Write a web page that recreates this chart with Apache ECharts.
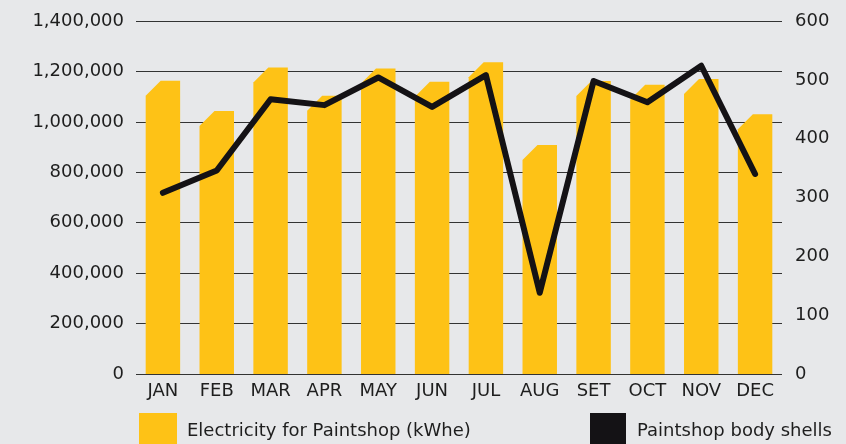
<!DOCTYPE html>
<html>
<head>
<meta charset="utf-8">
<script src="https://cdn.jsdelivr.net/npm/echarts@6/dist/echarts.min.js"></script>
<style>
  html, body { margin: 0; padding: 0; background: #e7e8ea; }
  #myChart { width: 846px; height: 444px; }
</style>
</head>
<body>
<div id="myChart"></div>
<script>
  // data
  var months = ['JAN', 'FEB', 'MAR', 'APR', 'MAY', 'JUN', 'JUL', 'AUG', 'SET', 'OCT', 'NOV', 'DEC'];
  var electricity = [1163000, 1043000, 1216000, 1104000, 1212000, 1159000, 1236000, 908000, 1162000, 1147000, 1170000, 1030000];
  var bodyShells = [308, 346, 467, 457, 504, 454, 508, 138, 498, 462, 524, 340];
  var leftTicks = [0, 1400000, 200000]; // min, max, step
  var rightTicks = [0, 600, 100];

  var yellow = '#fec216';
  var black = '#141215';
  var textColor = '#1e1e1e';
  var font = 'DejaVu Sans';

  function withCommas(v) {
    return String(v).replace(/\B(?=(\d{3})+(?!\d))/g, ',');
  }

  // bar with the top-left corner cut off
  function renderBar(params, api) {
    var i = api.value(0);
    var top = api.coord([i, api.value(1)]);
    var base = api.coord([i, 0]);
    var w = api.size([1, 0])[0] * 0.64;
    var x0 = top[0] - w / 2;
    var x1 = top[0] + w / 2;
    var cut = 15;
    return {
      type: 'polygon',
      shape: {
        points: [[x0, base[1]], [x0, top[1] + cut], [x0 + cut, top[1]], [x1, top[1]], [x1, base[1]]]
      },
      style: { fill: yellow }
    };
  }

  var myChart = echarts.init(document.getElementById('myChart'));
  myChart.setOption({
    backgroundColor: '#e7e8ea',
    animation: false,
    textStyle: { fontFamily: font },
    grid: { left: 136, right: 64, top: 21, bottom: 70 },
    legend: [{
      left: 139,
      top: 413,
      padding: 0,
      itemWidth: 38,
      itemHeight: 36,
      textStyle: { color: textColor, fontSize: 18, fontFamily: font, padding: [0, 0, 0, 5] },
      data: [{ name: 'Electricity for Paintshop (kWhe)', icon: 'rect', itemStyle: { color: yellow } }]
    }, {
      left: 590,
      top: 413,
      padding: 0,
      itemWidth: 36,
      itemHeight: 36,
      textStyle: { color: textColor, fontSize: 18, fontFamily: font, padding: [0, 0, 0, 6] },
      data: [{ name: 'Paintshop body shells', icon: 'rect', itemStyle: { color: black } }]
    }],
    xAxis: {
      type: 'category',
      data: months,
      axisLine: { show: false },
      axisTick: { show: false },
      axisLabel: { color: textColor, fontSize: 18, margin: 8 }
    },
    yAxis: [{
      type: 'value',
      min: leftTicks[0],
      max: leftTicks[1],
      interval: leftTicks[2],
      axisLine: { show: false },
      axisTick: { show: false },
      axisLabel: { color: textColor, fontSize: 18, margin: 12, formatter: withCommas },
      splitLine: { lineStyle: { color: '#333', width: 1 } }
    }, {
      type: 'value',
      min: rightTicks[0],
      max: rightTicks[1],
      interval: rightTicks[2],
      axisLine: { show: false },
      axisTick: { show: false },
      axisLabel: { color: textColor, fontSize: 18, margin: 13 },
      splitLine: { show: false }
    }],
    series: [{
      name: 'Electricity for Paintshop (kWhe)',
      type: 'custom',
      renderItem: renderBar,
      itemStyle: { color: yellow },
      encode: { x: 0, y: 1 },
      data: electricity.map(function (v, i) { return [i, v]; }),
      z: 2
    }, {
      name: 'Paintshop body shells',
      type: 'line',
      yAxisIndex: 1,
      data: bodyShells,
      symbol: 'none',
      color: black,
      lineStyle: { width: 6, color: black, cap: 'round', join: 'round' },
      z: 3
    }]
  });
</script>
</body>
</html>
